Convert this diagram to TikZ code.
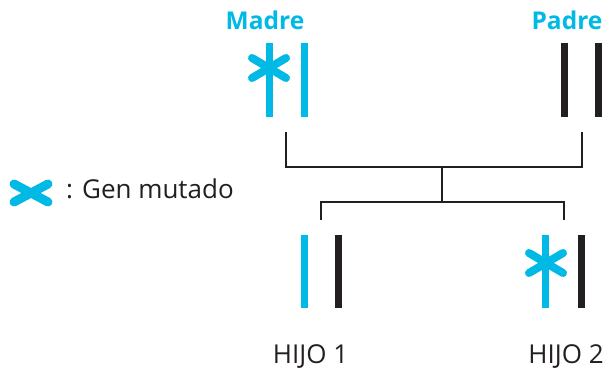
\documentclass[tikz,border=0pt]{standalone}
\usepackage{fontspec}
\setmainfont{Open Sans}
\definecolor{cy}{HTML}{00B9E4}
\definecolor{dk}{HTML}{231F20}
\tikzset{
  bar/.style={line width=7pt},
  star/.style={cy, line width=8pt, line cap=round},
  conn/.style={dk, line width=1.8pt},
  title/.style={cy, font=\fontsize{24.5}{28}\selectfont\bfseries, anchor=base, inner sep=0pt},
  label/.style={dk, font=\fontsize{26}{30}\selectfont, anchor=base, inner sep=0pt},
}
\begin{document}
\begin{tikzpicture}[x=1pt,y=-1pt]
\useasboundingbox (0,0) rectangle (605,369);
% titles
\node[title] (madre) at (265,30) {Madre};
\node[title] (padre) at (567,30) {Padre};
% mother chromosomes
\draw[bar,cy] (269,43) -- (269,117);
\draw[bar,cy] (304,43) -- (304,117);
\draw[star] (252,58) -- (286,78) (252,78) -- (286,58);
% father chromosomes
\draw[bar,dk] (564,43) -- (564,117);
\draw[bar,dk] (598,43) -- (598,117);
% connectors
\coordinate (m) at (285.7,132);
\coordinate (p) at (581.7,132);
\coordinate (j) at (442.3,166.7);
\coordinate (k) at (442.3,201.7);
\coordinate (c1) at (321,220);
\coordinate (c2) at (564,220);
\draw[conn] (m) |- (j) -| (p);
\draw[conn] (j) -- (k);
\draw[conn] (c1) |- (k) -| (c2);
% child 1
\draw[bar,cy] (304.5,235) -- (304.5,308);
\draw[bar,dk] (338,235) -- (338,308);
% child 2
\draw[bar,cy] (545.5,235) -- (545.5,308);
\draw[bar,dk] (581,235) -- (581,308);
\draw[star] (529,253) -- (563,273) (529,273) -- (563,253);
\node[label, text depth=0pt] (h1) at (310.5,363.5) {HIJO 1};
\node[label, text depth=0pt] (h2) at (566,363.5) {HIJO 2};
% legend
\draw[cy, line width=9pt, line cap=round] (14,184) -- (48,202) (14,202) -- (48,184);
\node[label, anchor=base west] (leg) at (66,198) {: Gen mutado};
\end{tikzpicture}
\end{document}
